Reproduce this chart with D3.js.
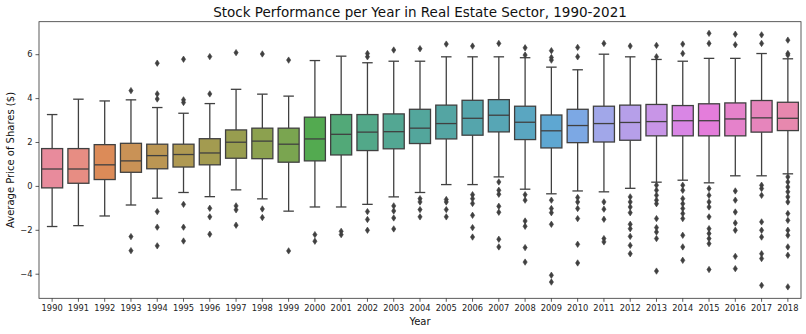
<!DOCTYPE html>
<html>
<head>
<meta charset="utf-8">
<script src="https://cdn.jsdelivr.net/npm/d3@7"></script>
<style>
  body { margin: 0; background: #fff; }
  svg { display: block; font-family: "DejaVu Sans", sans-serif; }
</style>
</head>
<body>
<div id="chart"></div>
<script>
// box stats, one entry per year
const years = [1990, 1991, 1992, 1993, 1994, 1995, 1996, 1997, 1998, 1999,
               2000, 2001, 2002, 2003, 2004, 2005, 2006, 2007, 2008, 2009,
               2010, 2011, 2012, 2013, 2014, 2015, 2016, 2017, 2018];
const whiskerHigh = [3.25, 3.95, 3.87, 3.92, 3.57, 3.31, 3.75, 4.40, 4.18, 4.09,
                     5.71, 5.91, 5.61, 5.68, 5.68, 5.88, 5.88, 5.88, 5.84, 5.41,
                     5.29, 6.00, 5.88, 5.76, 5.68, 5.81, 5.81, 6.03, 5.79];
const q3 = [1.70, 1.70, 1.88, 1.94, 1.90, 1.90, 2.15, 2.55, 2.63, 2.63,
            3.13, 3.25, 3.25, 3.28, 3.49, 3.68, 3.90, 3.93, 3.63, 3.23,
            3.49, 3.63, 3.68, 3.71, 3.66, 3.74, 3.78, 3.89, 3.81];
const medians = [0.77, 0.77, 0.96, 1.14, 1.38, 1.43, 1.50, 1.99, 2.04, 1.90,
                 2.14, 2.35, 2.45, 2.47, 2.63, 2.84, 3.08, 3.22, 2.90, 2.51,
                 2.75, 2.84, 2.89, 2.93, 2.97, 2.97, 3.05, 3.10, 3.08];
const q1 = [-0.09, 0.12, 0.29, 0.62, 0.78, 0.86, 0.96, 1.26, 1.24, 1.08,
            1.14, 1.41, 1.61, 1.69, 1.93, 2.14, 2.31, 2.46, 2.11, 1.73,
            1.97, 2.00, 2.08, 2.28, 2.28, 2.28, 2.28, 2.45, 2.52];
const whiskerLow = [-1.85, -1.81, -1.37, -0.87, -0.56, -0.30, -0.49, -0.18, -0.59, -1.15,
                    -0.96, -0.96, -0.84, -0.50, -0.30, 0.06, 0.06, 0.41, -0.15, -0.36,
                    -0.23, -0.27, -0.11, 0.17, 0.26, 0.14, 0.46, 0.46, 0.55];
const outliers = [
  [], [], [],
  [4.34, -2.31, -2.95],
  [5.59, 4.19, 3.96, -1.17, -1.88, -2.73],
  [5.77, 3.92, 3.80, -0.84, -1.88, -2.51],
  [5.89, 4.19, -1.02, -1.41, -2.20],
  [6.07, -0.91, -1.09, -1.79],
  [6.01, -1.05, -1.44],
  [5.73, -2.96],
  [-2.22, -2.52],
  [-2.07, -2.22],
  [6.03, 5.88, -1.17, -1.53, -2.02],
  [6.19, -0.91, -1.14, -1.46, -1.96],
  [6.25, -0.58, -0.73, -1.08, -1.41],
  [6.46, -0.62, -0.73, -1.08, -1.41],
  [6.37, -0.40, -0.58, -0.80, -1.34, -1.90, -2.33],
  [6.49, 0.18, -0.20, -0.38, -0.93, -1.20, -2.43, -2.78],
  [6.29, 5.96, -0.40, -0.65, -1.60, -1.84, -2.81, -3.47],
  [6.16, 5.85, 5.73, -0.65, -1.03, -1.22, -1.75, -4.07, -4.38],
  [6.31, 5.88, -0.53, -0.73, -1.03, -1.49, -2.66, -3.51],
  [6.49, -0.73, -1.06, -1.52, -2.40, -2.55],
  [6.37, -0.50, -0.73, -0.96, -1.22, -1.75, -1.95, -2.30, -2.71, -3.09],
  [6.40, 5.88, 0.03, -0.20, -0.43, -0.65, -0.81, -1.49, -1.90, -2.10, -2.40, -3.88],
  [6.46, 6.03, 0.03, -0.20, -0.58, -0.81, -1.03, -1.26, -1.49, -2.25, -2.78, -3.39],
  [6.95, 6.49, -0.12, -0.43, -0.73, -0.96, -1.41, -1.95, -2.17, -2.40, -2.63, -3.81],
  [6.91, 6.43, -0.23, -0.65, -1.19, -1.69, -2.02, -3.21, -3.77],
  [6.88, 6.49, 0.03, -0.12, -0.43, -1.64, -2.02, -2.33, -3.09, -3.31, -4.53],
  [6.64, 6.03, 5.96, 0.41, 0.18, -0.05, -0.27, -0.50, -0.73, -1.26, -1.57, -2.02, -2.25, -2.78, -3.16, -4.60]
];
const yTicks = [-4, -2, 0, 2, 4, 6];
const yLimits = [-5.12, 7.48];

// husl palette like seaborn uses for many categories
const M = [[3.2406, -1.5372, -0.4986], [-0.9689, 1.8758, 0.0415], [0.0557, -0.2040, 1.0570]];
function maxChroma(L, H) {
  const hr = H / 180 * Math.PI, sinH = Math.sin(hr), cosH = Math.cos(hr);
  const sub1 = Math.pow(L + 16, 3) / 1560896;
  const sub2 = sub1 > 0.008856 ? sub1 : L / 903.3;
  let result = Infinity;
  M.forEach(([m1, m2, m3]) => {
    const top = (0.99915 * m1 + 1.05122 * m2 + 1.14460 * m3) * sub2;
    const rb = 0.86330 * m3 - 0.17266 * m2;
    const lb = 0.12949 * m3 - 0.38848 * m1;
    const bottom = (rb * sinH + lb * cosH) * sub2;
    [0, 1].forEach(t => {
      const C = L * (top - 1.05122 * t) / (bottom + 0.17266 * sinH * t);
      if (C > 0 && C < result) result = C;
    });
  });
  return result;
}
function huslToRgb(H, S, L) {
  const C = maxChroma(L, H) / 100 * S;
  const hr = H / 180 * Math.PI;
  const U = C * Math.cos(hr), V = C * Math.sin(hr);
  const fy = (L + 16) / 116;
  const Y = Math.pow(fy, 3) > 0.008856 ? Math.pow(fy, 3) : (116 * fy - 16) / 903.3;
  const varU = U / (13 * L) + 0.19784, varV = V / (13 * L) + 0.46834;
  const X = -(9 * Y * varU) / ((varU - 4) * varV - varU * varV);
  const Z = (9 * Y - 15 * varV * Y - varV * X) / (3 * varV);
  return M.map(([a, b, c]) => {
    const v = a * X + b * Y + c * Z;
    const s = v <= 0.0031308 ? 12.92 * v : 1.055 * Math.pow(v, 1 / 2.4) - 0.055;
    return Math.max(0, Math.min(1, s));
  });
}
const colors = years.map((y, i) => {
  const h = ((i / years.length + 0.01) % 1) * 359;
  const [r, g, b] = huslToRgb(h, 0.9 * 99, 0.65 * 99);
  const c = d3.hsl(d3.rgb(r * 255, g * 255, b * 255));
  c.s *= 0.75;
  return c;
});
const lum = d3.min(colors, c => c.l) * 0.6;
const gray = d3.rgb(lum * 255, lum * 255, lum * 255).formatHex();
// the picture reads a touch lighter than the raw palette
const fills = colors.map(c => d3.interpolateRgb(c, '#ffffff')(0.08));

const width = 806, height = 334;
const margin = {top: 21.7, right: 5, bottom: 35.7, left: 39};

const svg = d3.select('#chart')
  .append('svg')
  .attr('width', width)
  .attr('height', height);

const x = d3.scaleBand()
  .domain(years)
  .range([margin.left, width - margin.right])
  .padding(0);

const y = d3.scaleLinear()
  .domain(yLimits)
  .range([height - margin.bottom, margin.top]);

const boxW = x.bandwidth() * 0.8;
const capW = boxW * 0.5;

// axes
svg.append('g')
  .attr('transform', 'translate(0,' + (height - margin.bottom) + ')')
  .call(d3.axisBottom(x).tickSizeOuter(0).tickSize(3.5).tickPadding(3))
  .call(g => g.select('.domain').remove())
  .call(g => g.selectAll('line').attr('stroke', '#333').attr('stroke-width', 0.8))
  .call(g => g.selectAll('text').attr('font-size', 8.3).attr('fill', '#222')
    .attr('font-family', '"DejaVu Sans", sans-serif'));

svg.append('g')
  .attr('transform', 'translate(' + margin.left + ',0)')
  .call(d3.axisLeft(y).tickValues(yTicks).tickSizeOuter(0).tickSize(3.5).tickPadding(3))
  .call(g => g.select('.domain').remove())
  .call(g => g.selectAll('line').attr('stroke', '#333').attr('stroke-width', 0.8))
  .call(g => g.selectAll('text').attr('font-size', 8.3).attr('fill', '#222')
    .attr('font-family', '"DejaVu Sans", sans-serif'));

const boxes = svg.selectAll('.box')
  .data(years)
  .enter()
  .append('g')
  .attr('class', 'box')
  .attr('transform', d => 'translate(' + (x(d) + x.bandwidth() / 2) + ',0)');

// whiskers
boxes.append('line')
  .attr('y1', (d, i) => y(q3[i])).attr('y2', (d, i) => y(whiskerHigh[i]))
  .attr('stroke', gray).attr('stroke-width', 1.3);
boxes.append('line')
  .attr('y1', (d, i) => y(q1[i])).attr('y2', (d, i) => y(whiskerLow[i]))
  .attr('stroke', gray).attr('stroke-width', 1.3);
boxes.append('line')
  .attr('x1', -capW / 2).attr('x2', capW / 2)
  .attr('y1', (d, i) => y(whiskerHigh[i])).attr('y2', (d, i) => y(whiskerHigh[i]))
  .attr('stroke', gray).attr('stroke-width', 1.3);
boxes.append('line')
  .attr('x1', -capW / 2).attr('x2', capW / 2)
  .attr('y1', (d, i) => y(whiskerLow[i])).attr('y2', (d, i) => y(whiskerLow[i]))
  .attr('stroke', gray).attr('stroke-width', 1.3);

// boxes and medians
boxes.append('rect')
  .attr('x', -boxW / 2)
  .attr('width', boxW)
  .attr('y', (d, i) => y(q3[i]))
  .attr('height', (d, i) => y(q1[i]) - y(q3[i]))
  .attr('fill', (d, i) => fills[i])
  .attr('stroke', gray).attr('stroke-width', 1.3);
boxes.append('line')
  .attr('x1', -boxW / 2).attr('x2', boxW / 2)
  .attr('y1', (d, i) => y(medians[i])).attr('y2', (d, i) => y(medians[i]))
  .attr('stroke', gray).attr('stroke-width', 1.3);

// fliers as thin diamonds
boxes.selectAll('.flier')
  .data((d, i) => outliers[i])
  .enter()
  .append('path')
  .attr('class', 'flier')
  .attr('d', 'M0,-3.2L2.1,0L0,3.2L-2.1,0Z')
  .attr('transform', v => 'translate(0,' + y(v) + ')')
  .attr('fill', gray)
  .attr('stroke', gray)
  .attr('stroke-width', 0.6);

// frame
svg.append('rect')
  .attr('x', margin.left).attr('y', margin.top)
  .attr('width', width - margin.left - margin.right)
  .attr('height', height - margin.top - margin.bottom)
  .attr('fill', 'none').attr('stroke', '#333').attr('stroke-width', 0.8);

svg.append('text')
  .text('Stock Performance per Year in Real Estate Sector, 1990-2021')
  .attr('x', (margin.left + width - margin.right) / 2)
  .attr('y', 16.7)
  .attr('text-anchor', 'middle')
  .attr('font-size', 13.5)
  .attr('fill', '#111');

svg.append('text')
  .text('Year')
  .attr('x', (margin.left + width - margin.right) / 2)
  .attr('y', 325)
  .attr('text-anchor', 'middle')
  .attr('font-size', 10)
  .attr('fill', '#111');

svg.append('text')
  .text('Average Price of Shares ($)')
  .attr('transform', 'rotate(-90)')
  .attr('x', -(margin.top + height - margin.bottom) / 2)
  .attr('y', 14)
  .attr('text-anchor', 'middle')
  .attr('font-size', 10)
  .attr('fill', '#111');
</script>
</body>
</html>
